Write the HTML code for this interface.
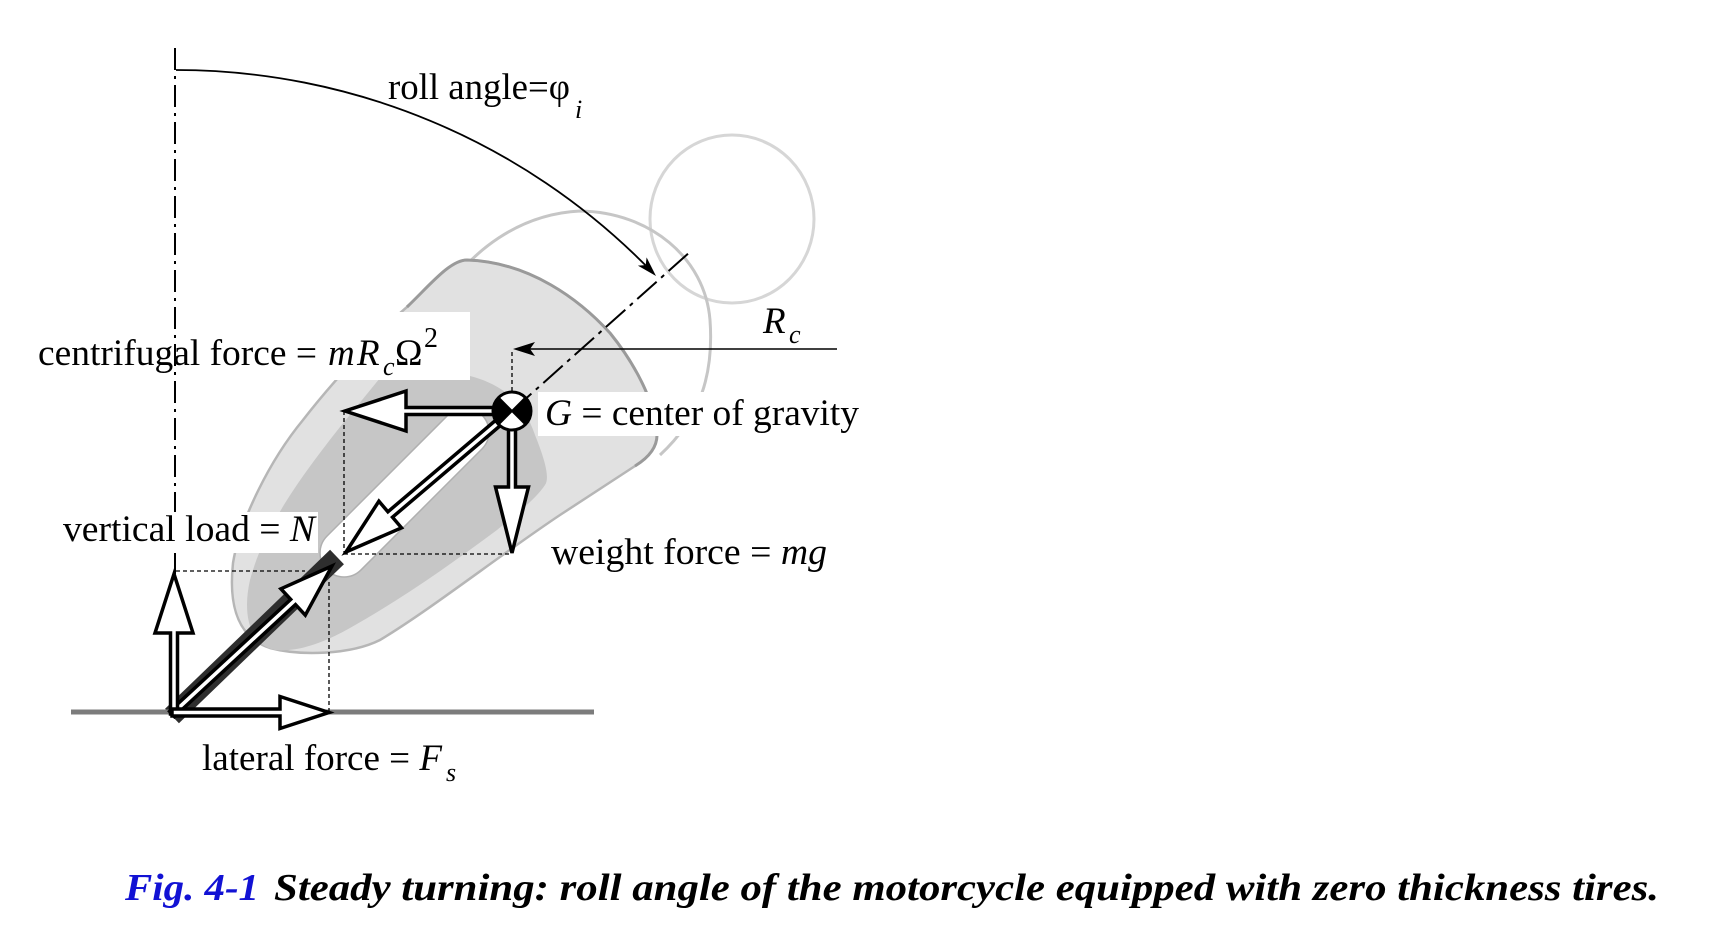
<!DOCTYPE html>
<html>
<head>
<meta charset="utf-8">
<style>
  html,body{margin:0;padding:0;background:#ffffff;}
  svg{display:block;}
  text{font-family:"Liberation Serif","DejaVu Serif",serif;fill:#000;}
</style>
</head>
<body>
<svg width="1722" height="925" viewBox="0 0 1722 925" xmlns="http://www.w3.org/2000/svg">
  <rect x="0" y="0" width="1722" height="925" fill="#ffffff"/>

  <!-- helmet outline -->
  <ellipse cx="732" cy="219" rx="82" ry="84" fill="none" stroke="#d6d6d6" stroke-width="3"/>
  <!-- large light torso arc -->
  <path d="M 440,300 C 470,250 520,214 580,211 C 650,212 705,258 710,320 C 714,375 700,418 660,455" fill="none" stroke="#c6c6c6" stroke-width="3"/>

  <!-- outer body -->
  <path d="M 233,563 C 240,520 270,460 303,420 C 330,385 380,330 407,307 C 430,285 450,260 467,260 C 530,262 580,300 610,333 C 640,370 657,410 657,435 C 657,448 648,458 635,466 L 560,515 C 500,555 430,610 380,640 C 350,655 300,656 270,648 C 240,638 228,610 233,563 Z" fill="#e1e1e1" stroke="#b6b6b6" stroke-width="2.5"/>
  <!-- darker top-right edge -->
  <path d="M 407,307 C 430,285 450,260 467,260 C 530,262 580,300 610,333 C 640,370 657,410 657,435 C 657,448 648,458 635,466" fill="none" stroke="#9a9a9a" stroke-width="3"/>

  <!-- darker inner region -->
  <path d="M 380,378 L 470,376 C 505,385 525,405 535,435 C 545,460 550,478 545,485 C 535,500 515,515 497,530 C 450,565 400,600 350,628 C 320,645 295,652 275,650 C 250,645 242,615 250,580 C 262,535 290,490 340,427 Z" fill="#c6c6c6"/>

  <!-- white capsule (wheel) -->
  <rect x="295" y="468.5" width="219" height="48" rx="24" ry="24" transform="rotate(-45 404.5 492.5)" fill="#ffffff" stroke="#b0b0b0" stroke-width="1.5"/>

  <!-- dark tire band -->
  <line x1="172" y1="716" x2="337" y2="557" stroke="#2e2e2e" stroke-width="20"/>

  <!-- ground -->
  <line x1="71" y1="712" x2="594" y2="712" stroke="#7c7c7c" stroke-width="5"/>

  <!-- white label boxes -->
  <rect x="300" y="312" width="170" height="68" fill="#ffffff"/>
  <rect x="538" y="392" width="330" height="44" fill="#ffffff"/>
  <rect x="58" y="512" width="260" height="41" fill="#ffffff"/>
  <rect x="544" y="530" width="293" height="45" fill="#ffffff"/>

  <!-- vertical dash-dot reference line -->
  <line x1="175" y1="48" x2="175" y2="512" stroke="#000" stroke-width="2" stroke-dasharray="22 6 3 6"/>
  <line x1="175" y1="553" x2="175" y2="574" stroke="#000" stroke-width="2"/>

  <!-- roll axis dash-dot -->
  <line x1="512" y1="411" x2="691" y2="251" stroke="#000" stroke-width="2" stroke-dasharray="26 6 4 6"/>

  <!-- dashed construction lines -->
  <g stroke="#000" stroke-width="1.3" stroke-dasharray="4 3" fill="none">
    <line x1="344" y1="411" x2="344" y2="553"/>
    <line x1="344" y1="554" x2="512" y2="554"/>
    <line x1="512" y1="352" x2="512" y2="391"/>
    <line x1="176" y1="571" x2="305" y2="571"/>
    <line x1="329" y1="582" x2="329" y2="712"/>
  </g>

  <!-- Rc arrow -->
  <line x1="837" y1="349" x2="528" y2="349" stroke="#000" stroke-width="1.6"/>
  <polygon points="513,349 535,342 530,349 535,356" fill="#000"/>

  <!-- roll angle arc -->
  <path d="M 176,70 A 662 662 0 0 1 645.5,265.3" fill="none" stroke="#000" stroke-width="1.8"/>
  <polygon points="656,276 637.9,265.6 645.7,265.1 646.6,257.4" fill="#000"/>

  <!-- force arrows -->
  <g fill="#ffffff" stroke="#000" stroke-width="3.5" stroke-linejoin="miter">
    <polygon points="512,407.5 406,407.5 406,391 345,411 406,431 406,414.5 512,414.5"/>
    <polygon points="508.5,411 508.5,487 495.5,487 512,553 528.5,487 515.5,487 515.5,411"/>
    <polygon points="509.7,408.3 387.9,511.8 378.9,501.2 346,552 401.5,527.8 392.5,517.2 514.3,413.7"/>
    <polygon points="174.4,716.6 295.5,604.6 305.3,615.2 332,566 280.9,588.8 290.7,599.4 169.6,711.4"/>
    <polygon points="170.5,714 170.5,633 155,633 174,574 193,633 177.5,633 177.5,714"/>
    <polygon points="172,709 280,709 280,696.5 329,712.5 280,728.5 280,716 172,716"/>
  </g>

  <!-- G symbol -->
  <circle cx="512" cy="411" r="19" fill="#ffffff" stroke="#000" stroke-width="3"/>
  <path d="M 512,411 L 498.6,397.6 A 19 19 0 0 0 498.6,424.4 Z" fill="#000"/>
  <path d="M 512,411 L 525.4,397.6 A 19 19 0 0 1 525.4,424.4 Z" fill="#000"/>
  <line x1="498.6" y1="397.6" x2="525.4" y2="424.4" stroke="#000" stroke-width="2"/>
  <line x1="525.4" y1="397.6" x2="498.6" y2="424.4" stroke="#000" stroke-width="2"/>

  <!-- labels -->
  <text x="388" y="99" font-size="37" textLength="182" lengthAdjust="spacingAndGlyphs">roll angle=φ</text>
  <text x="575" y="118" font-size="26" font-style="italic">i</text>

  <text x="38" y="365" font-size="37" textLength="279" lengthAdjust="spacingAndGlyphs">centrifugal force =</text>
  <text x="328" y="365" font-size="37" font-style="italic">m</text>
  <text x="357" y="365" font-size="37" font-style="italic">R</text>
  <text x="383" y="375" font-size="26" font-style="italic">c</text>
  <text x="395" y="365" font-size="37">Ω</text>
  <text x="424" y="347" font-size="28">2</text>

  <text x="763" y="333" font-size="37" font-style="italic">R</text>
  <text x="789" y="343" font-size="26" font-style="italic">c</text>

  <text x="545" y="425" font-size="37" textLength="314" lengthAdjust="spacingAndGlyphs"><tspan font-style="italic">G</tspan> = center of gravity</text>

  <text x="63" y="541" font-size="37" textLength="252" lengthAdjust="spacingAndGlyphs">vertical load = <tspan font-style="italic">N</tspan></text>

  <text x="551" y="564" font-size="37" textLength="276" lengthAdjust="spacingAndGlyphs">weight force = <tspan font-style="italic">mg</tspan></text>

  <text x="202" y="770" font-size="37" textLength="240" lengthAdjust="spacingAndGlyphs">lateral force = <tspan font-style="italic">F</tspan></text>
  <text x="446" y="781" font-size="26" font-style="italic">s</text>

  <!-- caption -->
  <text x="125" y="900" font-size="38" font-weight="bold" font-style="italic" fill="#1212d4" style="fill:#1212d4" textLength="134" lengthAdjust="spacingAndGlyphs">Fig. 4-1</text>
  <text x="274" y="900" font-size="38" font-weight="bold" font-style="italic" textLength="1385" lengthAdjust="spacingAndGlyphs">Steady turning: roll angle of the motorcycle equipped with zero thickness tires.</text>
</svg>
</body>
</html>
